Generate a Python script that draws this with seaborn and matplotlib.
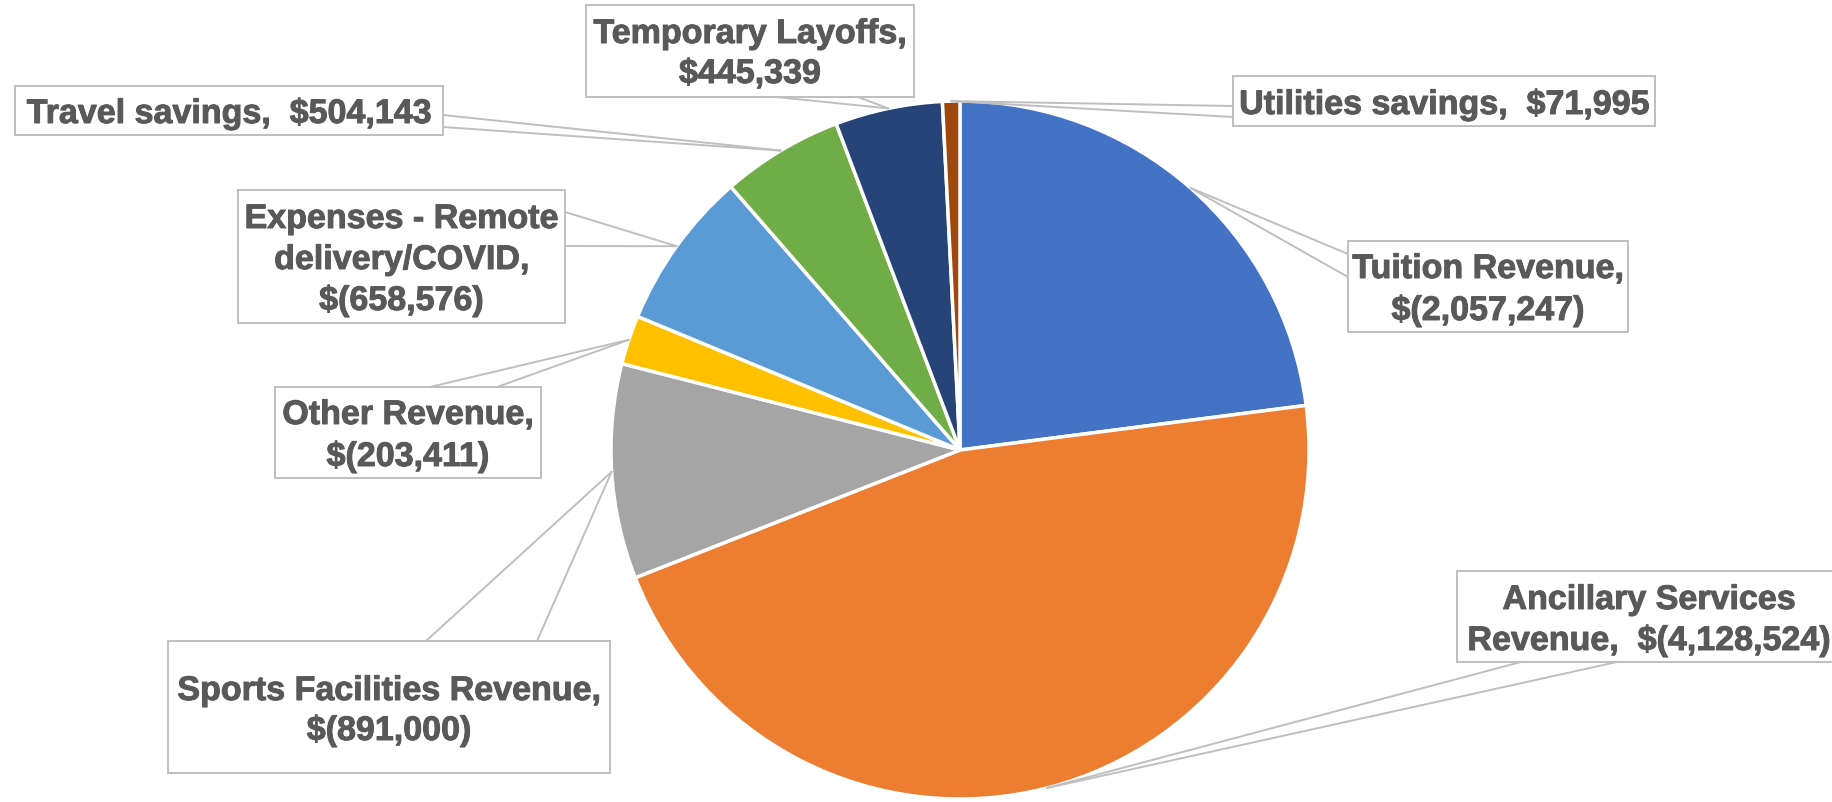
import numpy as np
import matplotlib
matplotlib.use("Agg")
import matplotlib.pyplot as plt
import matplotlib.patheffects as pe
from matplotlib.patches import Rectangle
import seaborn as sns

# slice data, clockwise from 12 o'clock
categories = ["Tuition Revenue", "Ancillary Services Revenue", "Sports Facilities Revenue",
              "Other Revenue", "Expenses - Remote delivery/COVID", "Travel savings",
              "Temporary Layoffs", "Utilities savings"]
amounts = [-2057247, -4128524, -891000, -203411, -658576, 504143, 445339, 71995]
colors = ["#4472C4", "#ED7D31", "#A5A5A5", "#FFC000", "#5B9BD5", "#70AD47", "#264478", "#9E480E"]

# how each label wraps ({c} = category, {v} = formatted amount)
templates = ["{c},\n{v}", "Ancillary Services\nRevenue,  {v}", "{c},\n{v}", "{c},\n{v}",
             "Expenses - Remote\ndelivery/COVID,\n{v}", "{c},  {v}", "{c},\n{v}", "{c},  {v}"]

# label boxes in pixel coords: (x0, y0, x1, y1), leader attach points, text baselines
boxes = [(1348, 242, 1628, 333), (1457, 572, 1841, 663), (168, 642, 610, 774),
         (275, 388, 541, 479), (238, 191, 565, 324), (15, 87, 443, 136),
         (586, 6, 914, 98), (1233, 77, 1655, 127)]
attach = [[(1348, 255), (1348, 278)], [(1521, 663), (1617, 663)], [(426, 642), (537, 642)],
          [(430, 388), (497, 388)], [(565, 213), (565, 247)], [(443, 116), (443, 128)],
          [(776, 98), (858, 98)], [(1233, 107), (1233, 118)]]
baselines = [[279, 321], [610, 651], [701, 741], [425, 467], [229, 270, 311], [124],
             [44, 84], [115]]

W, H = 1832, 803
CX, CY, R = 960, 451, 349
TXT = "#595959"
EDGE = "#BFBFBF"


def money(v):
    return f"$({-v:,})" if v < 0 else f"${v:,}"


sns.set_theme(style="white")
plt.rcParams['font.family'] = ['Liberation Sans', 'DejaVu Sans']

fig = plt.figure(figsize=(W / 100, H / 100), dpi=100)
ax = fig.add_axes([0, 0, 1, 1])

sizes = np.abs(amounts)
# y axis is flipped to pixel coords, so counterclock in data = clockwise on screen
wedges, _ = ax.pie(sizes, colors=colors, startangle=-90, counterclock=True,
                   center=(CX, CY), radius=R,
                   wedgeprops=dict(edgecolor="white", linewidth=2.5))
ax.set_xlim(0, W)
ax.set_ylim(H, 0)
ax.set_aspect("equal")
ax.axis("off")

bold = [pe.withStroke(linewidth=0.7, foreground=TXT)]
for i, w in enumerate(wedges):
    mid = np.deg2rad((w.theta1 + w.theta2) / 2)
    ax_pt = (CX + R * np.cos(mid), CY + R * np.sin(mid))
    for p in attach[i]:
        ax.plot([p[0], ax_pt[0]], [p[1], ax_pt[1]], color=EDGE, lw=1.4, zorder=3)
    x0, y0, x1, y1 = boxes[i]
    ax.add_patch(Rectangle((x0, y0), x1 - x0, y1 - y0, facecolor="white",
                           edgecolor=EDGE, lw=1.4, zorder=4))
    label = templates[i].format(c=categories[i], v=money(amounts[i]))
    xc = (x0 + x1) / 2
    for line, yb in zip(label.split("\n"), baselines[i]):
        ax.text(xc, yb, line, ha="center", va="baseline", fontsize=24.5,
                fontweight="bold", color=TXT, zorder=5, path_effects=bold)

fig.savefig("out.png", dpi=100, facecolor="white")
